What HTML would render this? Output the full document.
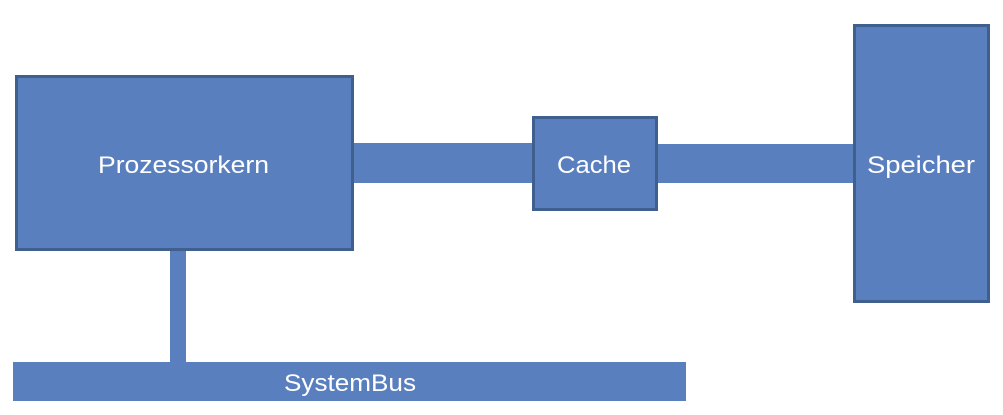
<!DOCTYPE html>
<html><head><meta charset="utf-8"><style>
html,body{margin:0;padding:0;background:#fff;width:1003px;height:415px;overflow:hidden}
</style></head><body>
<svg width="1003" height="415" viewBox="0 0 1003 415" xmlns="http://www.w3.org/2000/svg">
<g fill="#5a7fbf">
<rect x="170" y="249" width="16" height="114"/>
<rect x="13" y="362" width="673" height="39"/>
<rect x="352" y="143" width="182" height="40"/>
<rect x="655" y="144" width="200" height="39"/>
</g>
<g fill="#5a7fbf" stroke="#3f5f8f" stroke-width="3">
<rect x="16.5" y="76.5" width="336" height="173"/>
<rect x="533.5" y="117.5" width="123" height="92"/>
<rect x="854.5" y="25.5" width="134" height="276"/>
</g>
<g fill="#fff" font-family="Liberation Sans, sans-serif" font-size="24">
<text x="98" y="173" textLength="171" lengthAdjust="spacingAndGlyphs">Prozessorkern</text>
<text x="557" y="173" textLength="74" lengthAdjust="spacingAndGlyphs">Cache</text>
<text x="867" y="173" textLength="108" lengthAdjust="spacingAndGlyphs">Speicher</text>
<text x="284" y="391" textLength="132" lengthAdjust="spacingAndGlyphs">SystemBus</text>
</g>
</svg>
</body></html>
